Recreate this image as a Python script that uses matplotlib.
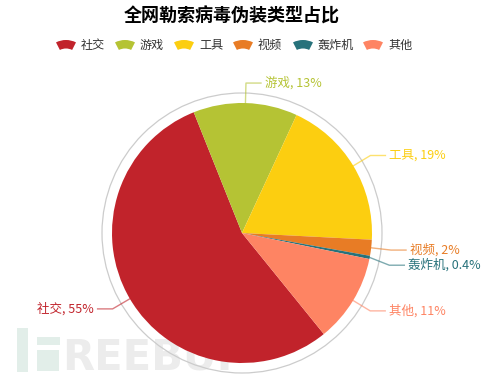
import numpy as np
import matplotlib.pyplot as plt
from matplotlib.patches import Wedge, Circle, Rectangle

plt.rcParams['font.family'] = ['Noto Sans CJK SC', 'DejaVu Sans']

# data
labels = ['社交', '游戏', '工具', '视频', '轰炸机', '其他']
values = [55, 13, 19, 2, 0.4, 11]
colors = ['#c1232b', '#b5c334', '#fcce10', '#e87c25', '#27727b', '#fe8463']
legend_x = [56, 115, 174, 233, 293, 363]  # left edge of each legend icon (px)
label_dy = [0, 0, 0, 0, 4, 0]  # small nudges so the right labels don't collide

W, H = 496, 378
fig = plt.figure(figsize=(W / 100, H / 100), dpi=100)
ax = fig.add_axes([0, 0, 1, 1])


def Y(y):
    # image pixel row -> data y
    return H - y


cx, cy, r = 242, Y(233), 130

# watermark (drawn under the pie)
wm_green = '#e2eee9'
ax.add_patch(Rectangle((17, Y(372)), 11, 44, fc=wm_green, ec='none', zorder=0))
ax.add_patch(Rectangle((37, Y(345)), 23, 8, fc=wm_green, ec='none', zorder=0))
ax.add_patch(Rectangle((37, Y(371)), 22, 21, fc=wm_green, ec='none', zorder=0))
ax.text(62, Y(370), 'REEBUF', fontsize=30, fontweight='bold', color='#ececec',
        ha='left', va='baseline', family=['Liberation Sans Narrow', 'DejaVu Sans'],
        zorder=0)

# outer ring
ax.add_patch(Circle((cx, cy), 140, fill=False, ec='#cccccc', lw=0.9, zorder=1))

wedges, _ = ax.pie(values, colors=colors, startangle=-51, counterclock=False,
                   center=(cx, cy), radius=r, wedgeprops=dict(linewidth=0),
                   frame=True)
ax.set_xlim(0, W)
ax.set_ylim(0, H)
ax.set_aspect('equal')
ax.axis('off')
for w in wedges:
    w.set_zorder(2)

for w, lab, val, col, dy in zip(wedges, labels, values, colors, label_dy):
    th = np.deg2rad((w.theta1 + w.theta2) / 2)
    c, s = np.cos(th), np.sin(th)
    x0, y0 = cx + r * c, cy + r * s
    x1, y1 = cx + (r + 20) * c, cy + (r + 20) * s - dy
    sign = 1 if c >= 0 else -1
    x2 = x1 + 15 * sign
    ax.plot([x0, x1, x2], [y0, y1, y1], color=col, alpha=0.6, lw=1, zorder=3)
    txt = '%s, %s%%' % (lab, ('%g' % val))
    ax.text(x2 + 4 * sign, y1, txt, color=col, fontsize=9,
            ha='left' if sign > 0 else 'right', va='center', zorder=3)

# title
ax.text(232, Y(16), '全网勒索病毒伪装类型占比', fontsize=13, fontweight='bold',
        color='#000000', ha='center', va='center')

# legend with fan shaped icons
for lx, lab, col in zip(legend_x, labels, colors):
    xm = lx + 10
    ax.add_patch(Wedge((xm, Y(45) - 17), 22, 63, 117, width=8.5,
                       fc=col, ec='none'))
    ax.text(lx + 25, Y(45), lab, fontsize=8.7, color='#333333',
            ha='left', va='center')

fig.savefig('out.png', dpi=100)
